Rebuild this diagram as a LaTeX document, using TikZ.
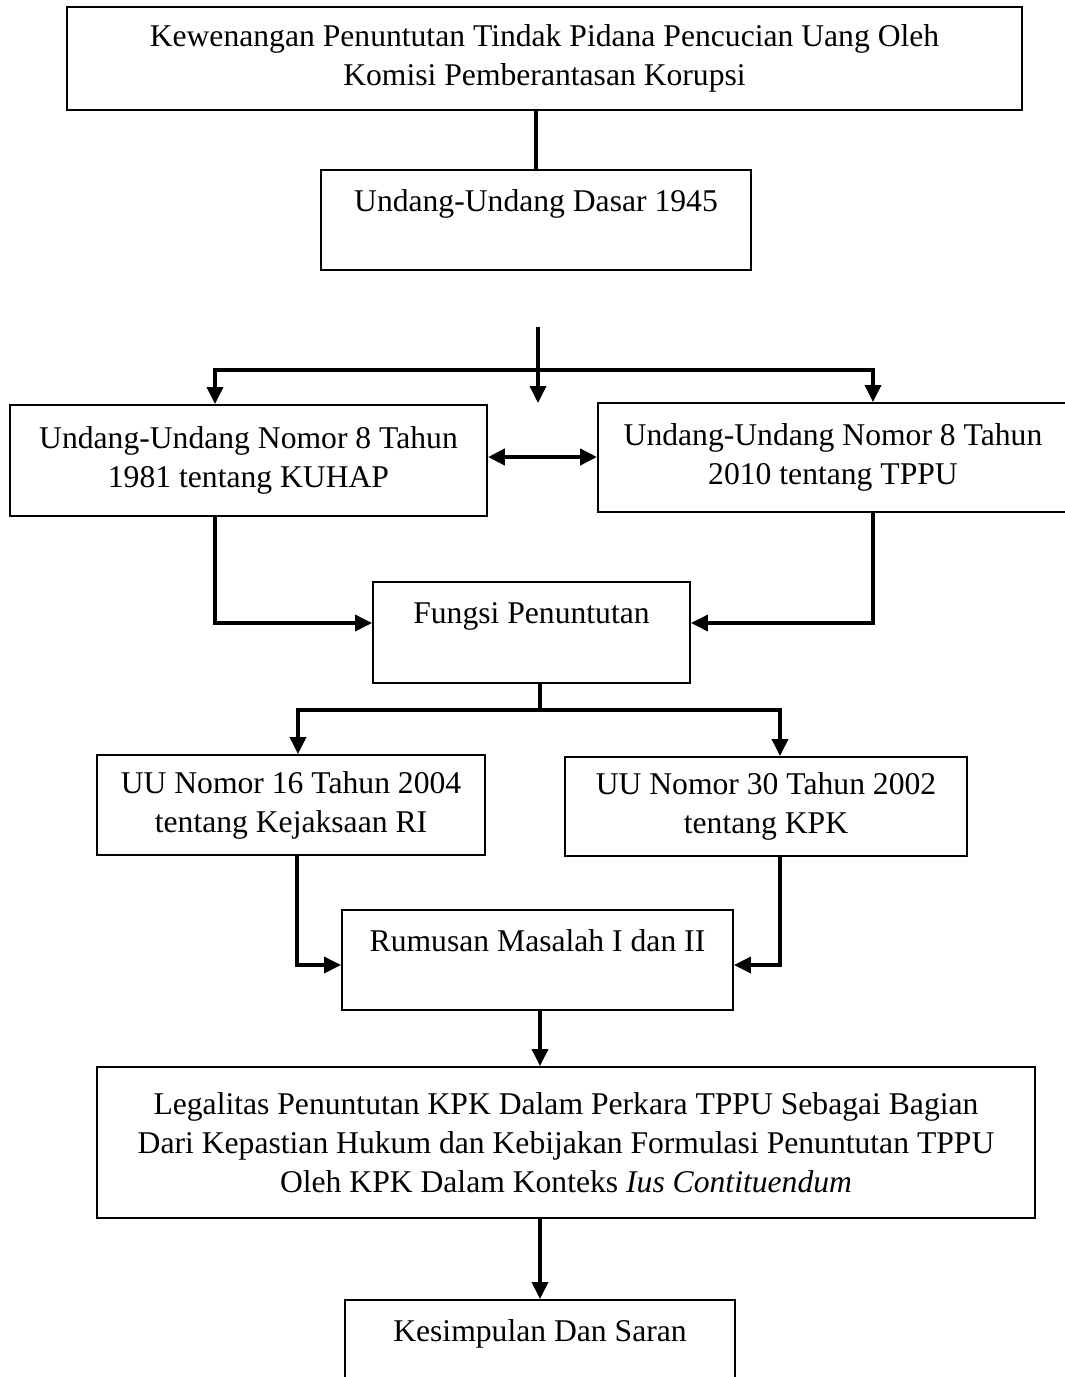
\documentclass[tikz,border=0pt]{standalone}
\usepackage{fontspec}
\setmainfont{Liberation Serif}
\usetikzlibrary{arrows.meta,positioning}

\begin{document}
\begin{tikzpicture}[x=0.2mm, y=-0.2mm, every node/.style={font=\fontsize{18}{22.2}\selectfont}]
    \tikzstyle{box} = [rectangle, draw=black, line width=1.1pt, inner sep=0pt, align=center]
    \tikzstyle{link} = [line width=2pt]
    \tikzstyle{arrow} = [line width=2pt, -{Triangle[length=3.4mm, width=3.2mm]}]
    \tikzstyle{twoway} = [line width=2.6pt, {Triangle[length=3.4mm, width=3.2mm]}-{Triangle[length=3.4mm, width=3.2mm]}]

    \path[use as bounding box, clip] (0,0) rectangle (1065,1377);

    % Judul dan dasar
    \node [box, minimum width=191mm, minimum height=20.6mm] (judul) at (544.5,58.5) {Kewenangan Penuntutan Tindak Pidana Pencucian Uang Oleh\\ Komisi Pemberantasan Korupsi};
    \node [box, minimum width=86mm, minimum height=20mm] (uud) at (536,220) {Undang-Undang Dasar 1945\\ ~};

    % Undang-undang
    \node [box, minimum width=95.4mm, minimum height=22.2mm] (kuhap) at (248.5,460.5) {Undang-Undang Nomor 8 Tahun\\ 1981 tentang KUHAP};
    \node [box, minimum width=94mm, minimum height=21.8mm] (tppu) at (833,457.5) {Undang-Undang Nomor 8 Tahun\\ 2010 tentang TPPU};

    % Fungsi
    \node [box, minimum width=63.4mm, minimum height=20.2mm] (fungsi) at (531.5,632.5) {Fungsi Penuntutan\\ ~};
    \node [box, minimum width=77.6mm, minimum height=20mm] (kejaksaan) at (291,805) {UU Nomor 16 Tahun 2004\\ tentang Kejaksaan RI};
    \node [box, minimum width=80.4mm, minimum height=19.8mm] (kpk) at (766,806.5) {UU Nomor 30 Tahun 2002\\ tentang KPK};

    % Rumusan dan hasil
    \node [box, minimum width=78.2mm, minimum height=20mm] (rumusan) at (537.5,960) {Rumusan Masalah I dan II\\ ~};
    \node [box, minimum width=187.6mm, minimum height=30.2mm] (legalitas) at (566,1142.5) {Legalitas Penuntutan KPK Dalam Perkara TPPU Sebagai Bagian\\ Dari Kepastian Hukum dan Kebijakan Formulasi Penuntutan TPPU\\ Oleh KPK Dalam Konteks \textit{Ius Contituendum}};
    \node [box, minimum width=78mm, minimum height=20mm] (kesimpulan) at (540,1350) {Kesimpulan Dan Saran\\ ~};

    % Connections
    \coordinate (cabang) at (538,370);
    \coordinate (pangkal) at (538,327);
    \coordinate (ujung) at (538,403);
    \coordinate (cabang2) at (540,710);

    \draw [link] (uud.north) -- (uud.north |- judul.south);
    \draw [arrow] (pangkal) -- (ujung);
    \draw [arrow] (cabang) -| ([xshift=-6.7mm]kuhap.north);
    \draw [arrow] (cabang) -| ([xshift=8mm]tppu.north);
    \draw [twoway] ([yshift=0.7mm]kuhap.east) -- ([yshift=0.7mm]kuhap.east -| tppu.west);

    \draw [arrow] ([xshift=-6.7mm]kuhap.south) |- ([yshift=1.9mm]fungsi.west);
    \draw [arrow] ([xshift=8mm]tppu.south) |- ([yshift=1.9mm]fungsi.east);

    \draw [link] (cabang2 |- fungsi.south) -- (cabang2);
    \draw [arrow] (cabang2) -| ([xshift=1.4mm]kejaksaan.north);
    \draw [arrow] (cabang2) -| ([xshift=2.8mm]kpk.north);

    \draw [arrow] ([xshift=1.2mm]kejaksaan.south) |- ([yshift=-1mm]rumusan.west);
    \draw [arrow] ([xshift=2.8mm]kpk.south) |- ([yshift=-1mm]rumusan.east);

    \draw [arrow] ([xshift=0.5mm]rumusan.south) -- ([xshift=0.5mm]rumusan.south |- legalitas.north);
    \draw [arrow] (kesimpulan.north |- legalitas.south) -- (kesimpulan.north);
\end{tikzpicture}
\end{document}
